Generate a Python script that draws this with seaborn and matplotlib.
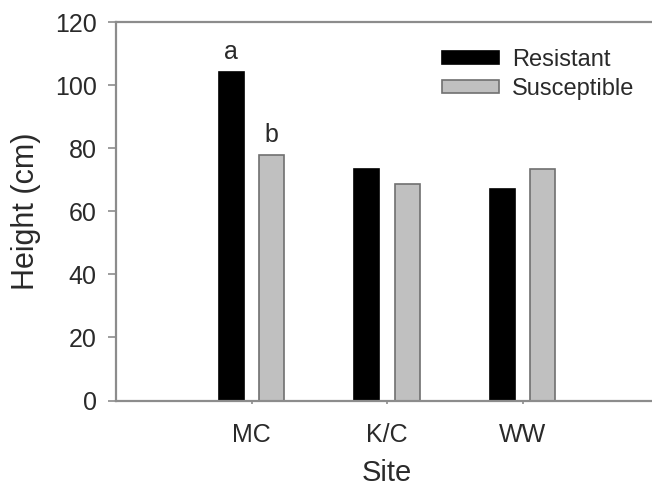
import pandas as pd
import matplotlib
matplotlib.use('Agg')
import matplotlib.pyplot as plt
import seaborn as sns

# data
sites = ['MC', 'K/C', 'WW']
resistant = [104.0, 73.3, 67.2]
susceptible = [77.7, 68.5, 73.5]
letters_res = ['a', '', '']
letters_sus = ['b', '', '']

df = pd.DataFrame({
    'Site': sites * 2,
    'Height': resistant + susceptible,
    'Type': ['Resistant'] * 3 + ['Susceptible'] * 3,
})

sns.set_style('white')
plt.rcParams['font.family'] = ['Liberation Sans', 'DejaVu Sans']
txt = '#2a2a2a'
spine = '#8c8c8c'

fig = plt.figure(figsize=(6.52, 4.91), dpi=100)
# axes runs slightly past the right edge of the figure (cropped like the original)
ax = fig.add_axes([116 / 652, 90.5 / 491, 542 / 652, 378.5 / 491])

sns.barplot(data=df, x='Site', y='Height', hue='Type', order=sites,
            palette={'Resistant': 'black', 'Susceptible': '#c0c0c0'},
            width=0.6, gap=0.38, ax=ax, linewidth=1.2)

# edge colours
for bar, (_, row) in zip(ax.patches, df.iterrows()):
    bar.set_edgecolor('black' if row['Type'] == 'Resistant' else '#707070')

# significance letters
labels = letters_res + letters_sus
for bar, lab in zip(ax.patches[:6], labels):
    if lab:
        ax.text(bar.get_x() + bar.get_width() / 2, bar.get_height() + 2.6, lab,
                ha='center', va='bottom', fontsize=18, color=txt)

ax.set_xlim(-1.0, 3.0)
ax.set_ylim(0, 120)
ax.set_yticks(range(0, 121, 20))
ax.set_xlabel('Site', fontsize=21, color=txt, labelpad=8)
ax.set_ylabel('Height (cm)', fontsize=22, color=txt, labelpad=10)
ax.tick_params(axis='both', labelsize=18, colors=txt)
ax.tick_params(axis='y', length=6, width=1.2, color=spine, direction='out', left=True, pad=8)
ax.tick_params(axis='x', length=2.5, width=1.2, color=spine, direction='out', bottom=True, pad=14)

for s in ax.spines.values():
    s.set_color(spine)
    s.set_linewidth(1.6)

leg = ax.legend(loc='upper left', bbox_to_anchor=(0.563, 0.985), frameon=False,
                fontsize=17, handlelength=2.4, handleheight=0.45, handletextpad=0.55,
                labelspacing=0.3)
for t in leg.get_texts():
    t.set_color(txt)
for h, ec in zip(leg.legend_handles, ['black', '#707070']):
    h.set_edgecolor(ec)

fig.savefig('out.png', dpi=100)
